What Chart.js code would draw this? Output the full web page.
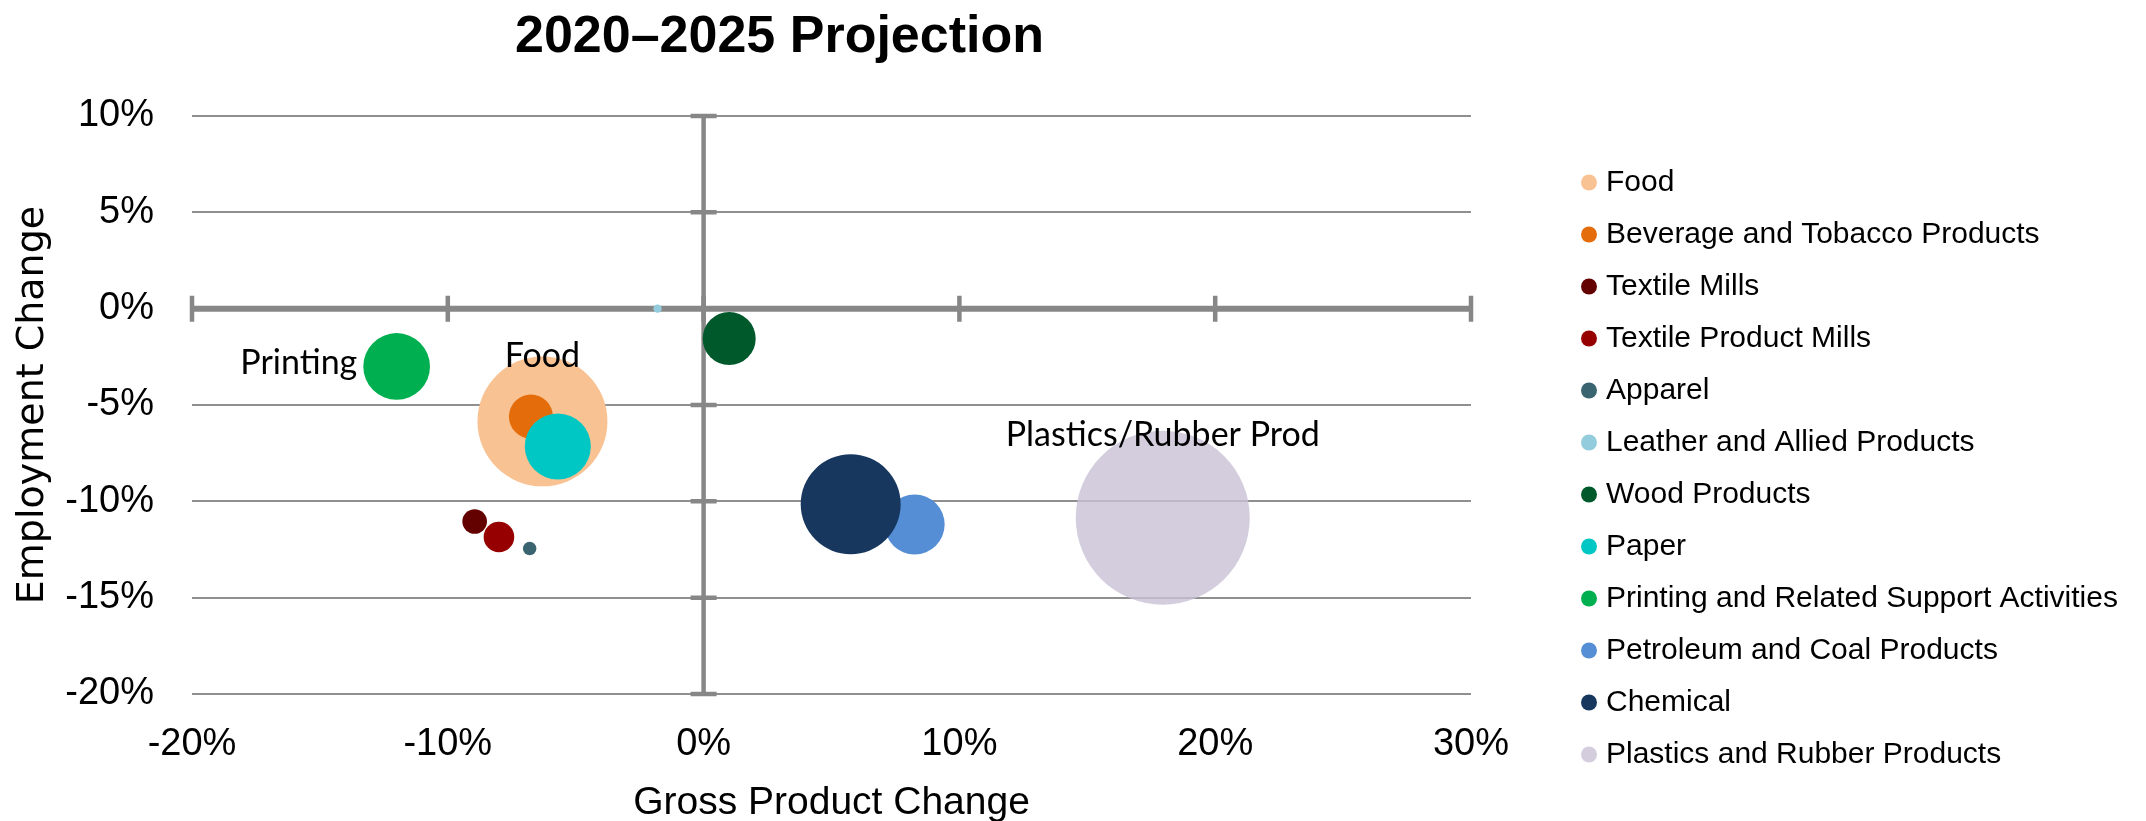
<!DOCTYPE html>
<html>
<head>
<meta charset="utf-8">
<script src="https://cdn.jsdelivr.net/npm/chart.js@4"></script>
<style>
  html, body { margin: 0; padding: 0; background: #fff; }
  canvas { display: block; }
</style>
</head>
<body>
<canvas id="bubbleChart" width="2146" height="821"></canvas>
<script>
// data (percent changes, relative bubble size)
const industries = [
  'Food',
  'Beverage and Tobacco Products',
  'Textile Mills',
  'Textile Product Mills',
  'Apparel',
  'Leather and Allied Products',
  'Wood Products',
  'Paper',
  'Printing and Related Support Activities',
  'Petroleum and Coal Products',
  'Chemical',
  'Plastics and Rubber Products'
];
const grossProductChange = [-6.3, -6.75, -8.95, -8.0, -6.8, -1.8, 1.0, -5.7, -12.0, 8.25, 5.75, 17.95];
const employmentChange = [-5.85, -5.6, -11.05, -11.85, -12.45, 0.0, -1.55, -7.15, -3.0, -11.2, -10.15, -10.85];
const bubbleSize = [55.8, 6.4, 2.0, 3.1, 0.6, 0.23, 9.3, 14.4, 14.7, 11.9, 33.0, 100];
const bubbleLabels = ['Food', '', '', '', '', '', '', '', 'Printing', '', '', 'Plastics/Rubber Prod'];
const xRange = [-20, 30];
const yRange = [-20, 10];
const chartTitle = '2020\u20132025 Projection';

// styles
const colors = [
  '#F9C293', '#E46C0A', '#630000', '#960000', '#3B6471', '#93CDDD',
  '#00592B', '#00C7C3', '#00B050', '#558ED5', '#17375E', 'rgba(200,193,213,0.8)'
];
const labelSide = { 'Food': 'above', 'Printing': 'left', 'Plastics/Rubber Prod': 'above' };
const maxBubbleRadius = 87;
const axisColor = '#878787';
const tickFont = { family: 'Liberation Sans', size: 38 };

const datasets = industries.map((name, i) => ({
  label: name,
  data: [{
    x: grossProductChange[i],
    y: employmentChange[i],
    r: maxBubbleRadius * Math.sqrt(bubbleSize[i] / 100)
  }],
  backgroundColor: colors[i],
  borderWidth: 0,
  hoverBorderWidth: 0,
  order: industries.length - i
}));

const crossAxes = {
  id: 'crossAxes',
  beforeDatasetsDraw(chart) {
    const { ctx, chartArea: a, scales: { x, y } } = chart;
    const x0 = x.getPixelForValue(0);
    const y0 = y.getPixelForValue(0);
    ctx.save();
    ctx.strokeStyle = axisColor;
    ctx.lineCap = 'butt';

    ctx.lineWidth = 6;
    ctx.beginPath();
    ctx.moveTo(a.left, y0);
    ctx.lineTo(a.right, y0);
    ctx.stroke();
    ctx.lineWidth = 4.5;
    ctx.beginPath();
    x.ticks.forEach(t => {
      const px = x.getPixelForValue(t.value);
      ctx.moveTo(px, y0 - 13);
      ctx.lineTo(px, y0 + 13);
    });
    ctx.stroke();

    ctx.lineWidth = 4.5;
    ctx.beginPath();
    ctx.moveTo(x0, a.top);
    ctx.lineTo(x0, a.bottom);
    ctx.stroke();
    ctx.beginPath();
    y.ticks.forEach(t => {
      const py = y.getPixelForValue(t.value);
      ctx.moveTo(x0 - 13, py);
      ctx.lineTo(x0 + 13, py);
    });
    ctx.stroke();
    ctx.restore();
  }
};

const bubbleText = {
  id: 'bubbleText',
  afterDatasetsDraw(chart) {
    const { ctx } = chart;
    ctx.save();
    ctx.fillStyle = '#000';
    ctx.font = '34px Lato';
    bubbleLabels.forEach((text, i) => {
      if (!text) return;
      const el = chart.getDatasetMeta(i).data[0];
      const r = el.options.radius;
      if (labelSide[text] === 'left') {
        ctx.textAlign = 'right';
        ctx.textBaseline = 'middle';
        ctx.fillText(text, el.x - r - 6, el.y - 3);
      } else {
        ctx.textAlign = 'center';
        ctx.textBaseline = 'alphabetic';
        ctx.fillText(text, el.x, el.y - r * 0.83);
      }
    });
    ctx.restore();
  }
};

const titleText = {
  id: 'titleText',
  afterDraw(chart) {
    const { ctx, chartArea: a } = chart;
    ctx.save();
    ctx.fillStyle = '#000';
    ctx.font = 'bold 52px "Liberation Sans"';
    ctx.textAlign = 'center';
    ctx.textBaseline = 'alphabetic';
    ctx.fillText(chartTitle, (a.left + a.right) / 2 - 52, 52);
    ctx.restore();
  }
};

// move the legend block right and give it room so no label is clipped
const legendGap = {
  id: 'legendGap',
  afterLayout(chart) {
    const lg = chart.legend;
    lg.left = chart.chartArea.right + 94;
    lg.right = chart.width;
    lg.width = lg.right - lg.left;
  }
};

const config = {
  type: 'bubble',
  data: { datasets: datasets },
  options: {
    responsive: false,
    animation: false,
    layout: { padding: { top: 116, left: 0, bottom: 0, right: 275 } },
    plugins: {
      title: { display: false },
      tooltip: { enabled: false },
      legend: {
        position: 'right',
        maxWidth: 400,
        labels: {
          usePointStyle: true,
          pointStyle: 'circle',
          boxWidth: 4,
          boxHeight: 11.3,
          padding: 22,
          color: '#000',
          font: { family: 'Liberation Sans', size: 30 },
          sort: (a, b) => a.datasetIndex - b.datasetIndex
        }
      }
    },
    scales: {
      x: {
        type: 'linear',
        min: xRange[0],
        max: xRange[1],
        afterFit(scale) { scale.height = 127; },
        grid: { display: false, drawTicks: false },
        border: { display: false },
        ticks: {
          stepSize: 10,
          padding: 28,
          color: '#000',
          font: tickFont,
          callback: v => v + '%'
        },
        title: {
          display: true,
          text: 'Gross Product Change',
          color: '#000',
          padding: 0,
          font: { family: 'Liberation Sans', size: 39, lineHeight: 0.9 }
        }
      },
      y: {
        type: 'linear',
        min: yRange[0],
        max: yRange[1],
        afterFit(scale) { scale.width = 192; },
        grid: { color: '#8F8F8F', lineWidth: 2, drawTicks: false },
        border: { display: false },
        ticks: {
          stepSize: 5,
          padding: 38,
          color: '#000',
          font: tickFont,
          callback: v => v + '%'
        },
        title: {
          display: true,
          text: 'Employment Change',
          color: '#000',
          padding: { top: 10, bottom: 0 },
          font: { family: 'DejaVu Sans', size: 38 }
        }
      }
    }
  },
  plugins: [crossAxes, bubbleText, titleText, legendGap]
};

const bubbleChart = new Chart(document.getElementById('bubbleChart'), config);
</script>
</body>
</html>
